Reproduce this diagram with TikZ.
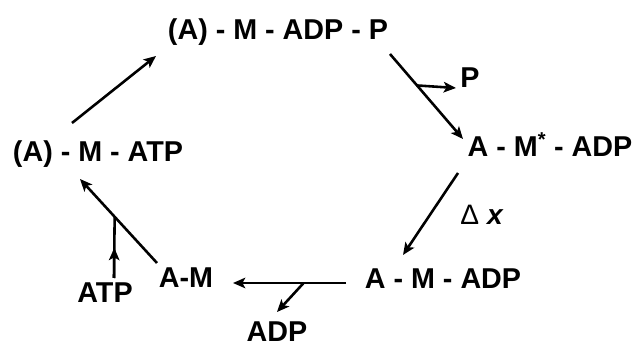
\documentclass[tikz,border=0pt]{standalone}
\usepackage{fontspec}
\setmainfont{Liberation Sans}
\newfontfamily\greekfont{Liberation Serif}
\usepackage{tikz}
\usetikzlibrary{positioning,calc,arrows.meta}

\begin{document}
\begin{tikzpicture}
  [x=0.03cm,y=-0.03cm,line width=2.2pt,>={Stealth[length=10.5pt,width=9pt,inset=2.5pt]},
   every node/.style={anchor=base,inner sep=0pt,font=\fontsize{24.5}{29}\selectfont\bfseries}]
  \useasboundingbox (0,0) rectangle (636,347);
  \node (n1) at (278,40) {(A) - M - ADP - P};
  \node (n2) at (550,157) {A - M\textsuperscript{*} - ADP};
  \node (n3) at (443,289) {A - M - ADP};
  \node (n4) at (186,288) {A-M};
  \node (n5) at (98,162) {(A) - M - ATP};
  \node (atp) at (105,303) {ATP};
  \node (adp) at (277,342) {ADP};
  \node (p) at (470,88) {P};
  \node[font=\fontsize{24}{28}\selectfont] (dx) at (482,225) {{\greekfont\normalfont Δ} \textbf{\textit{x}}};

  \draw[->] ($(n5.base)+(-26,-39)$) -- ($(n1.base)+(-122,16)$);
  \draw[->] ($(n1.base)+(112,14)$) -- coordinate[pos=0.37] (bp) ($(n2.base)+(-87,-18)$);
  \draw[->] (bp) -- ($(p.base)+(-14,0)$);
  \draw[->] ($(n2.base)+(-92,16)$) -- ($(n3.base)+(-40,-34)$);
  \draw[->] ($(n3.base)+(-97,-6)$) -- coordinate[pos=0.375] (bd) ($(n4.base)+(47,-5)$);
  \draw[->] (bd) -- ($(adp.base)+(0,-30)$);
  \draw[->] ($(n4.base)+(-29,-25)$) -- coordinate[pos=0.55] (ba) ($(n5.base)+(-18,17)$);
  \draw ($(atp.base)+(9,-25)$) -- (ba);
  \draw[->] ($(atp.base)+(9,-25)$) -- ($(atp.base)!0.5!(ba)+(4.5,-12)$);
\end{tikzpicture}
\end{document}
